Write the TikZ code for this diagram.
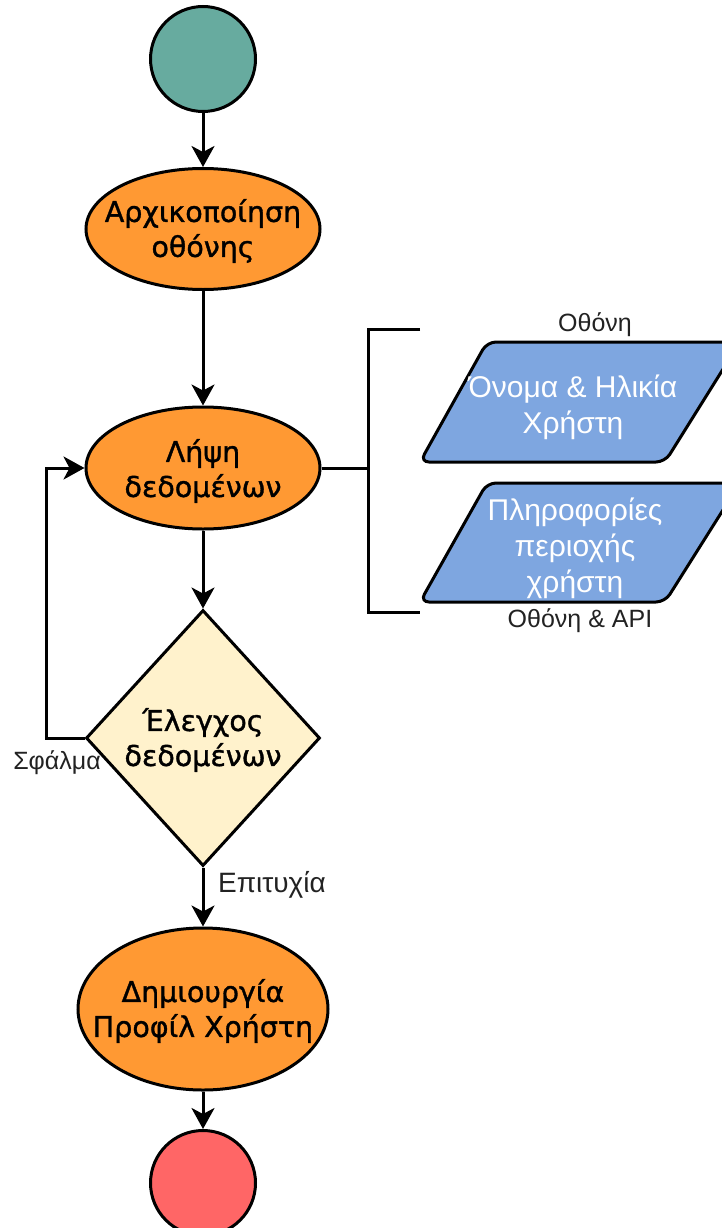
\documentclass[tikz,border=0pt]{standalone}
\usepackage{fontspec}
\setmainfont{Liberation Sans}
\newfontfamily\boxfont[FakeBold=1.2]{DejaVu Sans}
\usetikzlibrary{shapes.geometric,arrows.meta}

\definecolor{startfill}{HTML}{67AB9F}
\definecolor{stepfill}{HTML}{FF9933}
\definecolor{checkfill}{HTML}{FFF2CC}
\definecolor{endfill}{HTML}{FF6666}
\definecolor{datafill}{HTML}{7EA6E0}
\definecolor{labeltext}{HTML}{222222}

\tikzset{
  outline/.style={draw=black, line width=3pt},
  terminal/.style={outline, circle, minimum size=105pt, inner sep=0pt},
  stepbox/.style={outline, ellipse, fill=stepfill, inner sep=0pt},
  boxtext/.style={font=\boxfont\fontsize{28.5}{35}\selectfont, align=center, text=black, inner sep=0pt},
  datatext/.style={font=\fontsize{30}{36}\selectfont, align=center, text=white, inner sep=0pt},
  edgelabel/.style={font=\fontsize{25}{30}\selectfont, text=labeltext, inner sep=0pt},
  flow/.style={line width=3pt, -{Stealth[length=21pt, width=23pt, inset=6pt]}},
  plain/.style={line width=3pt},
  datashape/.style={outline, fill=datafill, rounded corners=9pt}
}

\begin{document}
\begin{tikzpicture}[x=1pt, y=-1pt]
  \useasboundingbox (0,0) rectangle (722,1228);
  \clip (0,0) rectangle (722,1228);

  % main column of the flow
  \node[terminal, fill=startfill] (start) at (203,59) {};
  \node[stepbox, minimum width=234pt, minimum height=121pt] (init) at (203,229) {};
  \node[boxtext] (inittext) at (203,231) {Αρχικοποίηση\\οθόνης};
  \node[stepbox, minimum width=234pt, minimum height=122pt] (get) at (203,468) {};
  \node[boxtext] (gettext) at (203,471) {Λήψη\\δεδομένων};
  \node[outline, diamond, fill=checkfill, minimum width=234pt, minimum height=256pt,
    inner sep=0pt] (check) at (203,738) {};
  \node[boxtext] (checktext) at (203,740) {Έλεγχος\\δεδομένων};
  \node[stepbox, minimum width=250pt, minimum height=162pt] (create) at (203,1009) {};
  \node[boxtext] (createtext) at (203,1011) {Δημιουργία\\Προφίλ Χρήστη};
  \node[terminal, fill=endfill] (end) at (203,1183) {};

  \draw[flow] (start) -- (init);
  \draw[flow] (init) -- (get);
  \draw[flow] (get) -- (check);
  \draw[flow] (check) -- (create);
  \draw[flow] (create) -- (end);

  % error loop back to data input
  \coordinate (loopcorner) at (46,738);
  \draw[flow] (check.west) -- (loopcorner) |- (get.west);

  \node[edgelabel] (errlabel) at (57,763) {Σφάλμα};
  \node[edgelabel, font=\fontsize{28}{32}\selectfont] (oklabel) at (272,885) {Επιτυχία};

  % bracket grouping the two inputs
  \coordinate (brmid) at (368,468);
  \coordinate (brtop) at (368,329);
  \coordinate (brbot) at (368,612);
  \coordinate (brtopend) at (420,329);
  \coordinate (brbotend) at (420,612);
  \draw[plain] (get.east) -- (brmid);
  \draw[plain] (brtopend) -- (brtop) -- (brbot) -- (brbotend);

  % input parallelograms
  \draw[datashape] (420,462) -- (487,342) -- (740,342) -- (665,462) -- cycle;
  \draw[datashape] (420,602) -- (487,483) -- (740,483) -- (665,602) -- cycle;
  \node[datatext] (nameage) at (573,407) {Όνομα \& Ηλικία\\Χρήστη};
  \node[datatext] (region) at (575,548) {Πληροφορίες\\περιοχής\\χρήστη};

  \node[edgelabel] (screenlabel) at (595,325) {Οθόνη};
  \node[edgelabel] (apilabel) at (580,621) {Οθόνη \& API};
\end{tikzpicture}
\end{document}
